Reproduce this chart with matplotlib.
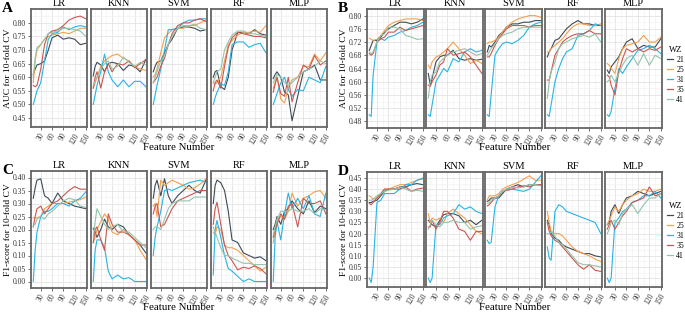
import matplotlib
matplotlib.use("Agg")
import matplotlib.pyplot as plt
from matplotlib.lines import Line2D

plt.rcParams['font.family'] = ['Liberation Serif', 'DejaVu Serif']

# number of features used (x axis), shared by every line
feature_number = [10, 15, 20, 30, 40, 50, 60, 75, 90, 105, 120, 135, 150]
models = ['LR', 'KNN', 'SVM', 'RF', 'MLP']
wz = ['21', '25', '31', '35', '41']
wz_colors = ['#3d4b57', '#f2a04c', '#27b4e4', '#cc5650', '#92c4ab']

# ---- A: AUC, rows are WZ 21, 25, 31, 35, 41
A_LR = [[0.61, 0.63, 0.645, 0.65, 0.66, 0.70, 0.745, 0.755, 0.74, 0.745, 0.74, 0.72, 0.725],
        [0.58, 0.66, 0.70, 0.72, 0.74, 0.75, 0.755, 0.76, 0.765, 0.76, 0.77, 0.78, 0.78],
        [0.50, 0.525, 0.55, 0.58, 0.66, 0.74, 0.76, 0.765, 0.785, 0.775, 0.785, 0.79, 0.785],
        [0.57, 0.565, 0.57, 0.63, 0.72, 0.76, 0.77, 0.775, 0.79, 0.81, 0.82, 0.825, 0.815],
        [0.60, 0.67, 0.71, 0.72, 0.74, 0.76, 0.765, 0.77, 0.78, 0.78, 0.775, 0.77, 0.75]]
A_KNN = [[0.605, 0.64, 0.655, 0.645, 0.62, 0.65, 0.655, 0.65, 0.625, 0.645, 0.64, 0.62, 0.665],
         [0.56, 0.58, 0.60, 0.64, 0.66, 0.67, 0.68, 0.685, 0.67, 0.66, 0.64, 0.63, 0.625],
         [0.50, 0.535, 0.57, 0.62, 0.685, 0.62, 0.59, 0.565, 0.59, 0.565, 0.585, 0.585, 0.565],
         [0.56, 0.60, 0.62, 0.56, 0.62, 0.65, 0.62, 0.65, 0.645, 0.66, 0.635, 0.65, 0.665],
         [0.57, 0.585, 0.60, 0.63, 0.65, 0.66, 0.63, 0.64, 0.675, 0.655, 0.64, 0.655, 0.645]]
A_SVM = [[0.62, 0.64, 0.655, 0.66, 0.69, 0.72, 0.74, 0.78, 0.785, 0.785, 0.78, 0.77, 0.775],
         [0.60, 0.61, 0.63, 0.69, 0.745, 0.76, 0.775, 0.78, 0.78, 0.79, 0.79, 0.80, 0.81],
         [0.50, 0.535, 0.57, 0.63, 0.70, 0.775, 0.775, 0.78, 0.80, 0.81, 0.81, 0.815, 0.815],
         [0.58, 0.59, 0.60, 0.64, 0.67, 0.72, 0.76, 0.79, 0.80, 0.80, 0.81, 0.815, 0.805],
         [0.58, 0.60, 0.62, 0.66, 0.68, 0.72, 0.75, 0.78, 0.79, 0.79, 0.795, 0.78, 0.775]]
A_RF = [[0.60, 0.62, 0.625, 0.565, 0.555, 0.60, 0.70, 0.765, 0.765, 0.76, 0.775, 0.76, 0.755],
        [0.58, 0.575, 0.58, 0.60, 0.66, 0.72, 0.735, 0.755, 0.765, 0.765, 0.77, 0.765, 0.79],
        [0.50, 0.525, 0.545, 0.575, 0.57, 0.62, 0.72, 0.73, 0.73, 0.71, 0.72, 0.725, 0.69],
        [0.55, 0.58, 0.59, 0.56, 0.64, 0.71, 0.745, 0.765, 0.76, 0.755, 0.75, 0.75, 0.745],
        [0.58, 0.60, 0.62, 0.63, 0.70, 0.73, 0.755, 0.77, 0.77, 0.76, 0.76, 0.755, 0.75]]
A_MLP = [[0.595, 0.61, 0.62, 0.60, 0.545, 0.535, 0.44, 0.53, 0.62, 0.63, 0.645, 0.59, 0.59],
         [0.56, 0.58, 0.60, 0.52, 0.505, 0.56, 0.59, 0.60, 0.64, 0.64, 0.685, 0.66, 0.69],
         [0.50, 0.52, 0.54, 0.58, 0.60, 0.555, 0.53, 0.555, 0.55, 0.60, 0.59, 0.58, 0.64],
         [0.545, 0.575, 0.60, 0.54, 0.53, 0.60, 0.51, 0.58, 0.645, 0.63, 0.68, 0.645, 0.66],
         [0.58, 0.595, 0.61, 0.60, 0.58, 0.57, 0.58, 0.60, 0.62, 0.63, 0.64, 0.66, 0.65]]

# ---- B: AUC
B_LR = [[0.695, 0.71, 0.725, 0.725, 0.735, 0.75, 0.76, 0.77, 0.78, 0.78, 0.775, 0.78, 0.79],
        [0.732, 0.728, 0.725, 0.728, 0.74, 0.755, 0.77, 0.78, 0.785, 0.79, 0.79, 0.79, 0.785],
        [0.50, 0.495, 0.62, 0.72, 0.73, 0.725, 0.735, 0.74, 0.75, 0.755, 0.765, 0.77, 0.78],
        [0.685, 0.68, 0.685, 0.72, 0.73, 0.735, 0.75, 0.75, 0.765, 0.755, 0.76, 0.765, 0.77],
        [0.69, 0.685, 0.69, 0.72, 0.74, 0.745, 0.765, 0.765, 0.76, 0.74, 0.735, 0.728, 0.73]]
B_KNN = [[0.625, 0.59, 0.61, 0.66, 0.675, 0.68, 0.68, 0.695, 0.67, 0.665, 0.67, 0.665, 0.668],
         [0.65, 0.64, 0.66, 0.675, 0.68, 0.69, 0.70, 0.72, 0.70, 0.68, 0.655, 0.665, 0.655],
         [0.50, 0.495, 0.53, 0.60, 0.62, 0.64, 0.63, 0.67, 0.66, 0.69, 0.70, 0.69, 0.695],
         [0.59, 0.585, 0.60, 0.62, 0.65, 0.66, 0.70, 0.68, 0.685, 0.69, 0.675, 0.65, 0.625],
         [0.55, 0.60, 0.62, 0.63, 0.66, 0.67, 0.68, 0.69, 0.695, 0.70, 0.69, 0.68, 0.685]]
B_SVM = [[0.69, 0.71, 0.705, 0.72, 0.74, 0.75, 0.765, 0.775, 0.775, 0.78, 0.78, 0.785, 0.785],
         [0.715, 0.72, 0.72, 0.725, 0.735, 0.75, 0.765, 0.78, 0.79, 0.795, 0.80, 0.80, 0.795],
         [0.50, 0.495, 0.56, 0.68, 0.70, 0.715, 0.72, 0.715, 0.725, 0.74, 0.765, 0.775, 0.78],
         [0.675, 0.675, 0.685, 0.71, 0.73, 0.745, 0.76, 0.77, 0.77, 0.77, 0.765, 0.77, 0.77],
         [0.68, 0.69, 0.70, 0.715, 0.73, 0.74, 0.745, 0.75, 0.76, 0.765, 0.765, 0.765, 0.765]]
B_RF = [[0.675, 0.69, 0.70, 0.725, 0.73, 0.745, 0.76, 0.775, 0.785, 0.775, 0.775, 0.77, 0.77],
        [0.69, 0.69, 0.70, 0.71, 0.72, 0.73, 0.745, 0.765, 0.775, 0.775, 0.77, 0.77, 0.775],
        [0.50, 0.495, 0.53, 0.60, 0.64, 0.67, 0.69, 0.70, 0.74, 0.745, 0.755, 0.775, 0.77],
        [0.605, 0.605, 0.63, 0.68, 0.70, 0.72, 0.73, 0.74, 0.745, 0.745, 0.755, 0.745, 0.745],
        [0.55, 0.60, 0.63, 0.66, 0.70, 0.715, 0.72, 0.73, 0.735, 0.74, 0.735, 0.745, 0.72]]
B_MLP = [[0.635, 0.625, 0.645, 0.66, 0.675, 0.70, 0.72, 0.73, 0.70, 0.71, 0.705, 0.705, 0.73],
         [0.655, 0.65, 0.64, 0.625, 0.67, 0.70, 0.71, 0.715, 0.72, 0.74, 0.72, 0.72, 0.735],
         [0.50, 0.495, 0.51, 0.58, 0.64, 0.625, 0.645, 0.67, 0.695, 0.70, 0.71, 0.70, 0.685],
         [0.62, 0.615, 0.59, 0.56, 0.63, 0.67, 0.70, 0.69, 0.70, 0.69, 0.70, 0.695, 0.705],
         [0.60, 0.605, 0.62, 0.60, 0.625, 0.65, 0.67, 0.68, 0.65, 0.685, 0.65, 0.68, 0.67]]

# ---- C: F1-score
C_LR = [[0.32, 0.36, 0.39, 0.395, 0.33, 0.32, 0.30, 0.34, 0.31, 0.30, 0.29, 0.285, 0.28],
        [0.245, 0.245, 0.245, 0.25, 0.28, 0.29, 0.30, 0.30, 0.30, 0.305, 0.31, 0.315, 0.325],
        [0.00, 0.12, 0.19, 0.25, 0.27, 0.27, 0.28, 0.30, 0.30, 0.29, 0.31, 0.32, 0.345],
        [0.21, 0.25, 0.28, 0.29, 0.26, 0.28, 0.30, 0.31, 0.33, 0.35, 0.365, 0.355, 0.355],
        [0.215, 0.22, 0.24, 0.25, 0.24, 0.26, 0.27, 0.29, 0.31, 0.32, 0.315, 0.29, 0.285]]
C_KNN = [[0.205, 0.19, 0.17, 0.20, 0.24, 0.21, 0.20, 0.22, 0.21, 0.18, 0.16, 0.14, 0.11],
         [0.15, 0.17, 0.20, 0.23, 0.26, 0.24, 0.19, 0.18, 0.20, 0.18, 0.16, 0.12, 0.085],
         [0.00, 0.12, 0.16, 0.16, 0.13, 0.04, 0.01, 0.025, 0.01, 0.015, 0.00, 0.00, 0.00],
         [0.15, 0.20, 0.21, 0.16, 0.12, 0.26, 0.22, 0.19, 0.19, 0.18, 0.16, 0.14, 0.14],
         [0.17, 0.23, 0.28, 0.25, 0.22, 0.20, 0.21, 0.22, 0.19, 0.19, 0.17, 0.15, 0.13]]
C_SVM = [[0.32, 0.37, 0.39, 0.33, 0.395, 0.33, 0.30, 0.33, 0.35, 0.37, 0.35, 0.34, 0.39],
         [0.29, 0.30, 0.25, 0.39, 0.37, 0.38, 0.39, 0.38, 0.37, 0.355, 0.36, 0.375, 0.395],
         [0.10, 0.17, 0.21, 0.27, 0.35, 0.355, 0.35, 0.36, 0.37, 0.38, 0.385, 0.39, 0.38],
         [0.26, 0.29, 0.30, 0.21, 0.22, 0.25, 0.28, 0.31, 0.32, 0.33, 0.34, 0.35, 0.35],
         [0.20, 0.21, 0.21, 0.20, 0.24, 0.28, 0.30, 0.31, 0.31, 0.31, 0.325, 0.325, 0.325]]
C_RF = [[0.30, 0.37, 0.39, 0.38, 0.35, 0.27, 0.16, 0.15, 0.11, 0.10, 0.09, 0.095, 0.08],
        [0.19, 0.18, 0.21, 0.20, 0.14, 0.13, 0.13, 0.12, 0.10, 0.08, 0.06, 0.04, 0.055],
        [0.025, 0.20, 0.235, 0.17, 0.10, 0.05, 0.04, 0.02, 0.00, 0.01, 0.00, 0.00, 0.00],
        [0.22, 0.28, 0.305, 0.22, 0.14, 0.10, 0.08, 0.045, 0.055, 0.05, 0.06, 0.05, 0.03],
        [0.21, 0.19, 0.17, 0.13, 0.10, 0.10, 0.09, 0.08, 0.07, 0.07, 0.065, 0.065, 0.065]]
C_MLP = [[0.20, 0.22, 0.25, 0.22, 0.27, 0.28, 0.31, 0.28, 0.26, 0.31, 0.265, 0.29, 0.28],
         [0.15, 0.19, 0.23, 0.25, 0.24, 0.27, 0.34, 0.29, 0.32, 0.33, 0.345, 0.35, 0.32],
         [0.00, 0.17, 0.23, 0.16, 0.26, 0.34, 0.28, 0.32, 0.28, 0.33, 0.26, 0.25, 0.34],
         [0.17, 0.20, 0.22, 0.26, 0.24, 0.29, 0.30, 0.21, 0.32, 0.30, 0.30, 0.31, 0.26],
         [0.18, 0.21, 0.24, 0.27, 0.27, 0.27, 0.28, 0.27, 0.27, 0.28, 0.26, 0.28, 0.275]]

# ---- D: F1-score
D_LR = [[0.34, 0.34, 0.345, 0.35, 0.37, 0.39, 0.40, 0.40, 0.41, 0.41, 0.42, 0.425, 0.42],
        [0.37, 0.365, 0.355, 0.36, 0.38, 0.40, 0.40, 0.41, 0.42, 0.42, 0.43, 0.44, 0.445],
        [0.00, -0.02, 0.05, 0.34, 0.35, 0.38, 0.38, 0.38, 0.40, 0.42, 0.42, 0.44, 0.45],
        [0.335, 0.33, 0.34, 0.36, 0.38, 0.40, 0.40, 0.40, 0.40, 0.41, 0.39, 0.40, 0.405],
        [0.35, 0.35, 0.355, 0.37, 0.38, 0.39, 0.395, 0.40, 0.41, 0.40, 0.39, 0.395, 0.39]]
D_KNN = [[0.26, 0.25, 0.24, 0.23, 0.26, 0.285, 0.29, 0.29, 0.28, 0.25, 0.26, 0.24, 0.26],
         [0.29, 0.25, 0.27, 0.26, 0.27, 0.25, 0.29, 0.31, 0.29, 0.27, 0.24, 0.21, 0.20],
         [0.00, -0.02, 0.00, 0.24, 0.24, 0.27, 0.28, 0.29, 0.33, 0.31, 0.32, 0.30, 0.29],
         [0.23, 0.23, 0.26, 0.22, 0.25, 0.30, 0.30, 0.27, 0.22, 0.21, 0.17, 0.21, 0.21],
         [0.22, 0.24, 0.26, 0.24, 0.23, 0.25, 0.25, 0.26, 0.25, 0.25, 0.22, 0.23, 0.235]]
D_SVM = [[0.345, 0.35, 0.36, 0.36, 0.36, 0.38, 0.40, 0.41, 0.42, 0.41, 0.42, 0.42, 0.42],
         [0.35, 0.37, 0.37, 0.37, 0.38, 0.40, 0.41, 0.42, 0.43, 0.445, 0.46, 0.44, 0.44],
         [0.17, 0.155, 0.16, 0.32, 0.37, 0.39, 0.395, 0.40, 0.395, 0.39, 0.40, 0.43, 0.46],
         [0.325, 0.33, 0.34, 0.36, 0.37, 0.39, 0.395, 0.40, 0.41, 0.415, 0.41, 0.42, 0.42],
         [0.335, 0.34, 0.35, 0.36, 0.37, 0.39, 0.40, 0.41, 0.405, 0.41, 0.42, 0.42, 0.415]]
D_RF = [[0.26, 0.24, 0.20, 0.18, 0.17, 0.15, 0.14, 0.13, 0.12, 0.11, 0.11, 0.10, 0.095],
        [0.30, 0.25, 0.21, 0.20, 0.20, 0.19, 0.17, 0.14, 0.12, 0.11, 0.10, 0.085, 0.075],
        [0.14, 0.09, 0.08, 0.30, 0.33, 0.32, 0.30, 0.29, 0.28, 0.27, 0.26, 0.25, 0.20],
        [0.25, 0.21, 0.19, 0.17, 0.16, 0.14, 0.12, 0.09, 0.06, 0.04, 0.06, 0.035, 0.03],
        [0.20, 0.20, 0.21, 0.19, 0.16, 0.15, 0.13, 0.10, 0.07, 0.06, 0.06, 0.055, 0.05]]
D_MLP = [[0.24, 0.25, 0.30, 0.33, 0.29, 0.33, 0.36, 0.37, 0.39, 0.38, 0.37, 0.38, 0.39],
         [0.24, 0.26, 0.28, 0.32, 0.30, 0.33, 0.35, 0.37, 0.38, 0.40, 0.39, 0.39, 0.40],
         [0.00, -0.02, 0.00, 0.25, 0.27, 0.30, 0.31, 0.34, 0.35, 0.37, 0.37, 0.39, 0.36],
         [0.22, 0.24, 0.26, 0.22, 0.25, 0.28, 0.30, 0.34, 0.35, 0.36, 0.41, 0.37, 0.38],
         [0.20, 0.22, 0.25, 0.26, 0.24, 0.29, 0.31, 0.33, 0.29, 0.33, 0.36, 0.36, 0.38]]

auc_ticks_a = [0.45, 0.50, 0.55, 0.60, 0.65, 0.70, 0.75, 0.80]
auc_ticks_b = [0.48, 0.52, 0.56, 0.60, 0.64, 0.68, 0.72, 0.76, 0.80]
f1_ticks_c = [0.00, 0.05, 0.10, 0.15, 0.20, 0.25, 0.30, 0.35, 0.40]
f1_ticks_d = [0.00, 0.05, 0.10, 0.15, 0.20, 0.25, 0.30, 0.35, 0.40, 0.45]
x_ticks = [30, 60, 90, 120, 150]

W, H = 685, 313
fig = plt.figure(figsize=(W / 100, H / 100), dpi=100)


def draw_panel(data, lefts, width, top, bottom, ylim, yticks, ylabel, letter, legend_top=None):
    axes = []
    for i, (name, rows) in enumerate(zip(models, data)):
        ax = fig.add_axes([lefts[i] / W, 1 - bottom / H, width / W, (bottom - top) / H])
        for k, vals in enumerate(rows):
            ax.plot(feature_number, vals, color=wz_colors[k], lw=0.8, label=wz[k])
        ax.set_xlim(4, 153)
        ax.set_ylim(*ylim)
        ax.set_xticks(x_ticks)
        ax.set_xticks([15, 45, 75, 105, 135], minor=True)
        ax.set_yticks(yticks)
        step = yticks[1] - yticks[0]
        ax.set_yticks([t + step / 2 for t in [yticks[0] - step] + yticks], minor=True)
        ax.grid(which='major', color='#e3e3e3', lw=0.6)
        ax.grid(which='minor', color='#f0f0f0', lw=0.4)
        ax.set_axisbelow(True)
        for s in ax.spines.values():
            s.set_color('#666666')
            s.set_linewidth(1.3)
        ax.tick_params(which='minor', length=0)
        ax.tick_params(which='major', length=2, width=0.5, color='#333333',
                       labelsize=5.5, labelcolor='#333333', pad=1.5)
        ax.set_xticklabels([str(t) for t in x_ticks], rotation=60, ha='center', va='top')
        if i == 0:
            ax.set_yticklabels(['%.2f' % t for t in yticks])
        else:
            ax.set_yticklabels([])
            ax.tick_params(axis='y', length=0)
        ax.text(0.5, 1.01, name, transform=ax.transAxes, ha='center', va='bottom', fontsize=7.5)
        axes.append(ax)
    mid_y = (top + bottom) / 2
    fig.text((lefts[0] - 23) / W, 1 - mid_y / H, ylabel, rotation=90, ha='center', va='center',
             fontsize=6.8)
    centre_x = (lefts[0] + lefts[-1] + width) / 2
    fig.text(centre_x / W, 1 - (bottom + 20) / H, 'Feature Number', ha='center', va='center',
             fontsize=7.8)
    fig.text((lefts[0] - 29) / W, 1 - (top - 7) / H, letter, ha='left', va='top',
             fontsize=11, fontweight='bold')
    if legend_top is not None:
        handles = [Line2D([], [], color=c, lw=0.9) for c in wz_colors]
        fig.legend(handles, wz, title='WZ', loc='upper left', frameon=False,
                   bbox_to_anchor=(667 / W, 1 - legend_top / H), fontsize=5.6,
                   title_fontsize=6.2, handlelength=0.8, handletextpad=0.4,
                   labelspacing=0.25, borderaxespad=0, borderpad=0)
    return axes


draw_panel([A_LR, A_KNN, A_SVM, A_RF, A_MLP], [31, 91, 151, 211, 271], 56, 9, 127,
           (0.417, 0.851), auc_ticks_a, 'AUC for 10-fold CV', 'A')
draw_panel([B_LR, B_KNN, B_SVM, B_RF, B_MLP], [367, 426, 485, 545, 605], 57, 9, 128,
           (0.479, 0.816), auc_ticks_b, 'AUC for 10-fold CV', 'B', legend_top=46)
draw_panel([C_LR, C_KNN, C_SVM, C_RF, C_MLP], [31, 91, 151, 211, 271], 56, 171, 288,
           (-0.017, 0.415), f1_ticks_c, 'F1-score for 10-fold CV', 'C')
draw_panel([D_LR, D_KNN, D_SVM, D_RF, D_MLP], [367, 426, 485, 545, 605], 57, 172, 287,
           (-0.04, 0.477), f1_ticks_d, 'F1-score for 10-fold CV', 'D', legend_top=202)

fig.savefig('out.png', dpi=100)
